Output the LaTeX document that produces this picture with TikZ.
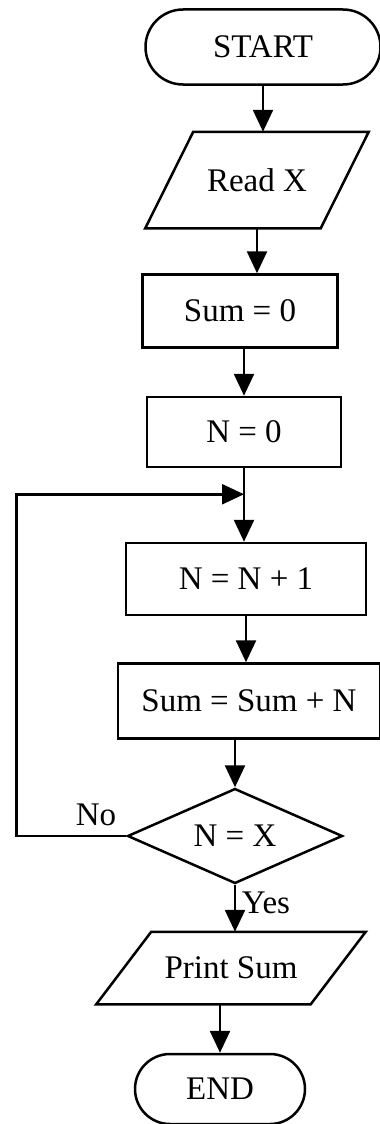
\documentclass[tikz,border=0pt]{standalone}
\usepackage{fontspec}
\setmainfont{Liberation Serif}
\usepackage{tikz}
\usetikzlibrary{arrows.meta,shapes.geometric,shapes.misc}

\begin{document}
\begin{tikzpicture}[x=1pt,y=-1pt,line width=2.5pt,
  font=\fontsize{33}{39}\selectfont,
  >={Triangle[length=22pt,width=20pt]},
  term/.style={draw,rounded rectangle,inner sep=0pt},
  proc/.style={draw,rectangle,inner sep=0pt},
  io/.style={rectangle,inner sep=0pt},
  test/.style={draw,diamond,aspect=2.2,inner sep=0pt}]
  \useasboundingbox (0,0) rectangle (380,1124);
  % main column, top to bottom
  \node[term,minimum width=235pt,minimum height=75pt] (start) at (263,47) {START};
  \node[io,minimum width=173pt,minimum height=94pt] (read) at (257,180) {Read X};
  \draw ([xshift=-24pt]read.south west) -- ([xshift=24pt]read.north west)
    -- ([xshift=24pt]read.north east) -- ([xshift=-24pt]read.south east) -- cycle;
  \node[proc,minimum width=195pt,minimum height=73pt] (sum0) at (240,311) {Sum = 0};
  \node[proc,minimum width=194pt,minimum height=70pt] (n0) at (244,432) {N = 0};
  \node[proc,minimum width=240pt,minimum height=72pt] (n1) at (246,579) {N = N + 1};
  \node[proc,minimum width=262pt,minimum height=75pt] (sum2) at (249,701) {Sum = Sum + N};
  \node[test,minimum width=215pt,minimum height=95pt] (cmp) at (235,836) {N = X};
  \node[io,minimum width=212pt,minimum height=70pt] (print) at (231,968) {Print Sum};
  \draw ([xshift=-27.5pt]print.south west) -- ([xshift=27.5pt]print.north west)
    -- ([xshift=27.5pt]print.north east) -- ([xshift=-27.5pt]print.south east) -- cycle;
  \node[term,minimum width=170pt,minimum height=70pt] (end) at (220,1089) {END};
  % branch labels
  \node (no) at (96,815) {No};
  \node (yes) at (266,903) {Yes};
  \coordinate (join) at ([yshift=-26pt]n0.south);
  % connectors
  \draw[->] (start.south) -- (start.south |- read.north);
  \draw[->] (read.south) -- (read.south |- sum0.north);
  \draw[->] (n0.north |- sum0.south) -- (n0.north);
  \draw[->] (n0.south) -- (n0.south |- n1.north);
  \draw[->] (n1.south) -- (n1.south |- sum2.north);
  \draw[->] (cmp.north |- sum2.south) -- (cmp.north);
  \draw[->] (cmp.south) -- (cmp.south |- print.north);
  \draw[->] (end.north |- print.south) -- (end.north);
  % loop back on No
  \draw[->] (cmp.west) -- ++(-110,0) |- (join);
\end{tikzpicture}
\end{document}
